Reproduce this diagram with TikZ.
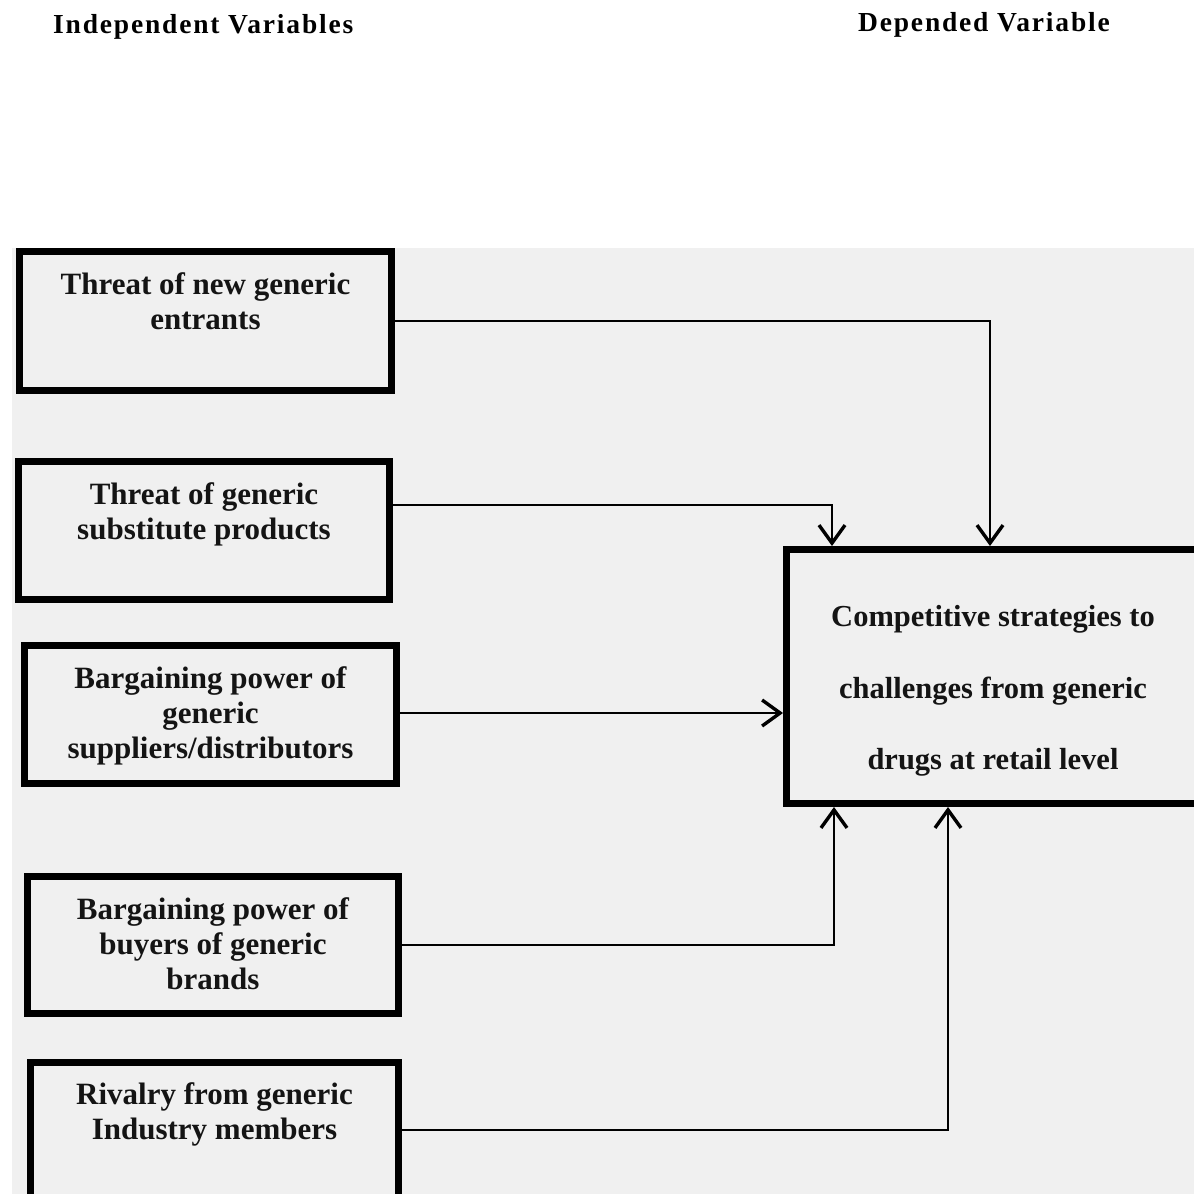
\documentclass[tikz,border=0pt]{standalone}
\usepackage{fontspec}
\setmainfont{Liberation Serif}
\usetikzlibrary{arrows.meta,calc}
\begin{document}
\begin{tikzpicture}[x=1pt,y=-1pt,
  box/.style={draw=black, line width=7pt, inner sep=0pt},
  lbl/.style={font=\bfseries\fontsize{31}{35}\selectfont, align=center, inner sep=0pt, anchor=north, text=black!92},
  hdr/.style={font=\bfseries\fontsize{27.5}{32}\selectfont\addfontfeature{LetterSpace=6.6}, anchor=base west, inner sep=0pt, text=black},
  conn/.style={line width=2.8pt, line join=miter, -{Straight Barb[length=18pt,width=26pt,line width=3.4pt]}},
  link/.style={line width=2.8pt, line join=miter}]
\clip (0,0) rectangle (1194,1194);
\fill[white] (0,0) rectangle (1194,1194);
\fill[black!6] (12,248) rectangle (1194,1194);
% headers
\node[hdr] (h1) at (53,33) {Independent Variables};
\node[hdr] (h2) at (858,31) {Depended Variable};
% boxes
\node[box, minimum width=372pt, minimum height=139pt] (b1) at (205.5,321) {};
\node[box, minimum width=371pt, minimum height=138pt] (b2) at (204,530.5) {};
\node[box, minimum width=372pt, minimum height=138pt] (b3) at (210.5,714.5) {};
\node[box, minimum width=371pt, minimum height=137pt] (b4) at (213,945) {};
\node[box, minimum width=368pt, minimum height=135pt] (b5) at (214.5,1130) {};
\node[box, minimum width=413pt, minimum height=254pt] (t) at (993,676.5) {};
% texts
\node[lbl] (l1) at (205.5,272) {Threat of new generic\\entrants};
\node[lbl] (l2) at (204,482) {Threat of generic\\substitute products};
\node[lbl] (l3) at (210.5,666) {Bargaining power of\\generic\\suppliers/distributors};
\node[lbl] (l4) at (213,897) {Bargaining power of\\buyers of generic\\brands};
\node[lbl] (l5) at (214.5,1082) {Rivalry from generic\\Industry members};
\node[lbl, font=\bfseries\fontsize{30.5}{71.5}\selectfont] (lt) at (993,605.5) {Competitive strategies to\\challenges from generic\\drugs at retail level};
% connector columns
\coordinate (k1) at (990,0);
\coordinate (k2) at (832,0);
\coordinate (k3) at (834,0);
\coordinate (k4) at (948,0);
% connectors
\draw[conn] (b1.east) -| (k1 |- t.north);
\draw[conn] ([yshift=25.5pt]b2.east) -| (k2 |- t.north);
\draw[conn] ([yshift=1.5pt]b3.east) -- ([yshift=1.5pt]b3.east -| t.west);
\draw[conn] (b4.east) -| (k3 |- t.south);
\draw[conn] (b5.east) -| (k4 |- t.south);
\end{tikzpicture}
\end{document}
